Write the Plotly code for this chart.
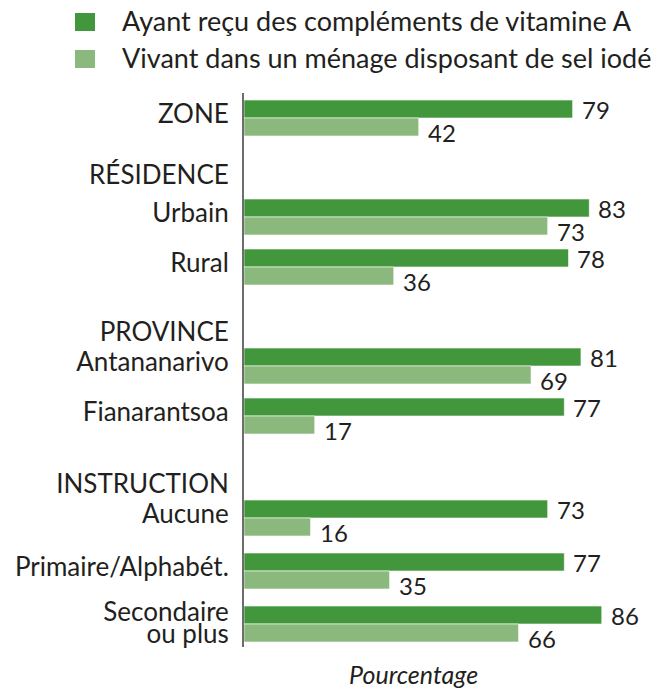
import plotly.graph_objects as go

# Données
categories = ["ZONE", "Urbain", "Rural", "Antananarivo", "Fianarantsoa",
              "Aucune", "Primaire/Alphabét.", "Secondaire<br>ou plus"]
vitamine_a = [79, 83, 78, 81, 77, 73, 77, 86]
sel_iode = [42, 73, 36, 69, 17, 16, 35, 66]
groupes = ["RÉSIDENCE", "PROVINCE", "INSTRUCTION"]
legende = ["Ayant reçu des compléments de vitamine A",
           "Vivant dans un ménage disposant de sel iodé"]

# Positions des lignes (1 unité = une ligne de 50 px)
pos_categories = [0.5, 2.48, 3.48, 5.46, 6.46, 8.5, 9.56, 10.62]
pos_groupes = [1.64, 4.78, 7.82]

VERT_FONCE = "#42963c"
VERT_CLAIR = "#8bb97d"
TEXTE = "#231f20"
FONT = "Lato"
BAR_W = 0.36

W, H = 666, 692
OFF = 8  # marge par défaut de la page html
ML, MR, MT, MB = 244 - OFF, 14, 93 - OFF, 53


def px_x(px):
    # pixel horizontal (dans la fenêtre) -> coordonnée paper
    return (px - OFF - ML) / (W - ML - MR)


def px_y(py):
    # pixel vertical (dans la fenêtre) -> coordonnée paper
    return 1 + (MT - (py - OFF)) / (H - MT - MB)


fig = go.Figure()

fig.add_trace(go.Bar(
    y=pos_categories, x=vitamine_a, orientation="h", name=legende[0],
    marker=dict(color=VERT_FONCE, line=dict(color="white", width=0.6)),
    width=BAR_W, offset=-BAR_W, showlegend=False,
))
fig.add_trace(go.Bar(
    y=pos_categories, x=sel_iode, orientation="h", name=legende[1],
    marker=dict(color=VERT_CLAIR, line=dict(color="white", width=0.6)),
    width=BAR_W, offset=0, showlegend=False,
))

# Étiquettes de valeurs
annotations = []
for y, v1, v2 in zip(pos_categories, vitamine_a, sel_iode):
    annotations.append(dict(x=v1, y=y - BAR_W / 2, text=str(v1), showarrow=False,
                            xanchor="left", xshift=7, yshift=0,
                            font=dict(family=FONT, size=24, color=TEXTE)))
    annotations.append(dict(x=v2, y=y + BAR_W / 2, text=str(v2), showarrow=False,
                            xanchor="left", xshift=7, yshift=-5,
                            font=dict(family=FONT, size=24, color=TEXTE)))

annotations.append(dict(x=px_x(413), y=px_y(674), xref="paper", yref="paper",
                        text="Pourcentage", showarrow=False, yanchor="middle",
                        font=dict(family=FONT, size=25, color=TEXTE, style="italic")))

# Légende dessinée à la main (carrés + textes)
shapes = []
for i, (nom, couleur) in enumerate(zip(legende, [VERT_FONCE, VERT_CLAIR])):
    top = 13 + i * 37
    shapes.append(dict(type="rect", xref="paper", yref="paper",
                       x0=px_x(75), x1=px_x(95), y0=px_y(top + 18), y1=px_y(top),
                       fillcolor=couleur, line=dict(width=0)))
    annotations.append(dict(x=px_x(120), y=px_y(top + 8), xref="paper", yref="paper",
                            text=nom, showarrow=False, xanchor="left", yanchor="middle",
                            font=dict(family=FONT, size=27, color=TEXTE)))

# Étiquettes de l'axe : catégories (un peu au-dessus du centre des barres) et groupes
tickvals, ticktext = [], []
for p, c in zip(pos_categories, categories):
    lignes = c.split("<br>")
    if len(lignes) == 1:
        tickvals.append(p - 0.09)
        ticktext.append(c)
    else:
        for k, ligne in enumerate(lignes):
            tickvals.append(p - 0.24 + k * 0.44)
            ticktext.append(ligne)
tickvals += pos_groupes
ticktext += groupes

fig.update_layout(
    width=W, height=H,
    margin=dict(l=ML, r=MR, t=MT, b=MB),
    barmode="overlay",
    paper_bgcolor="white", plot_bgcolor="white",
    font=dict(family=FONT, size=26, color=TEXTE),
    annotations=annotations,
    shapes=shapes,
    showlegend=False,
    xaxis=dict(range=[0, 100], visible=False, automargin=False),
    yaxis=dict(
        range=[11.08, 0], tickvals=tickvals, ticktext=ticktext,
        showline=True, linecolor="#6d6d6d", linewidth=2,
        showgrid=False, zeroline=False, automargin=False,
        ticks="outside", ticklen=0, ticklabelstandoff=8,
        tickfont=dict(family=FONT, size=26, color=TEXTE),
    ),
)

fig.write_html("out.html")
